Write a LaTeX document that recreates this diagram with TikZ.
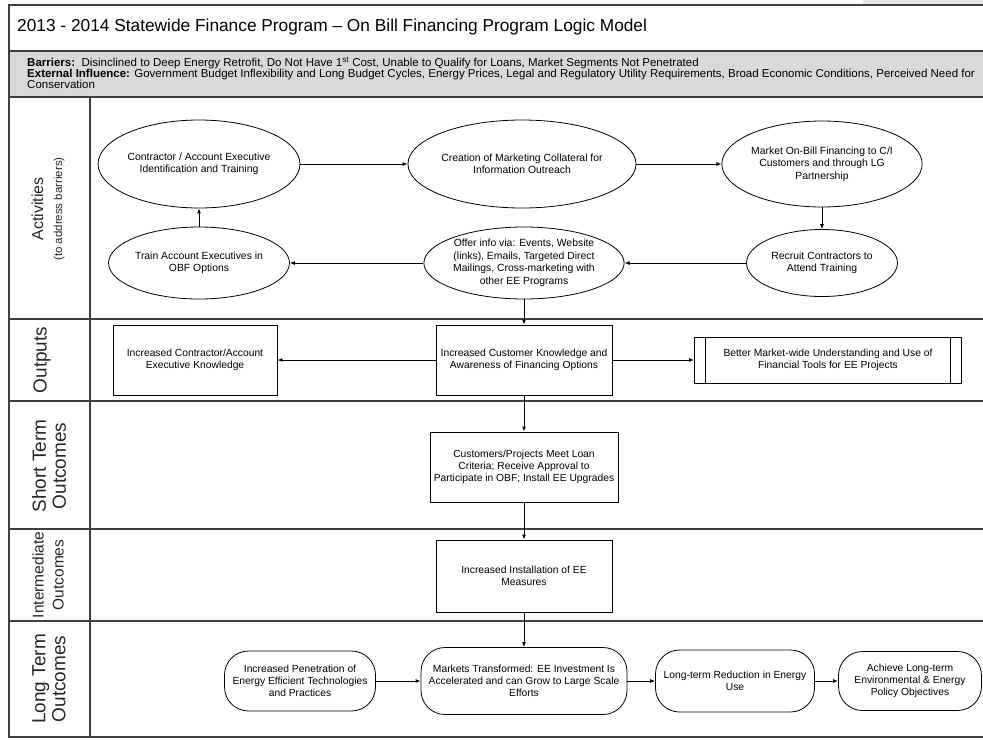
\documentclass[tikz,border=0pt]{standalone}
\usepackage{fontspec}
\setmainfont{Liberation Sans}
\usetikzlibrary{shapes,arrows,positioning,calc,arrows.meta}

\begin{document}
\begin{tikzpicture}[x=1pt, y=-1pt,
        activity/.style={
            ellipse, draw=black, line width=0.8pt, fill=white,
            font=\fontsize{10.4}{12.5}\selectfont, align=center,
            inner sep=0pt
          },
        outbox/.style={
            rectangle, draw=black, line width=0.9pt, fill=white,
            font=\fontsize{10.3}{12}\selectfont, align=center,
            inner sep=2pt
          },
        longterm/.style={
            rectangle, rounded corners=24pt, draw=black, line width=0.8pt, fill=white,
            font=\fontsize{10.3}{12}\selectfont, align=center,
            inner sep=2pt
          },
        flow/.style={-{Latex[length=5pt,width=4pt]}, line width=0.9pt},
        rowline/.style={draw=black!75, line width=1.3pt},
        rowlabel/.style={rotate=90, align=center, text=black!85, font=\fontsize{19}{20}\selectfont},
      ]
      \useasboundingbox (0,0) rectangle (983,740);
      \clip (0,0) rectangle (983,740);

      % Frame and header band
      \fill [black!10] (863,0) rectangle (990,4);
      \fill [black!15] (9,51) rectangle (1000,97);
      \draw [rowline] (1000,5) -- (9,5) -- (9,737) -- (1000,737);
      \foreach \y in {51,97,319,401,529,621}
        \draw [rowline] (9,\y) -- (1000,\y);
      \draw [rowline] (90,97) -- (90,737);

      \node [anchor=west, inner sep=0pt, font=\fontsize{17.3}{20}\selectfont] (title) at (17,27)
        {2013 - 2014 Statewide Finance Program – On Bill Financing Program Logic Model};
      \node [anchor=west, inner sep=0pt, align=left, font=\fontsize{11.5}{11}\selectfont] (barriers) at (27,73)
        {\textbf{Barriers:}\ \ Disinclined to Deep Energy Retrofit, Do Not Have 1\textsuperscript{st} Cost, Unable to Qualify for Loans, Market Segments Not Penetrated\\
         \textbf{External Influence:} Government Budget Inflexibility and Long Budget Cycles, Energy Prices, Legal and Regulatory Utility Requirements, Broad Economic Conditions, Perceived Need for\\
         Conservation};

      % Row labels
      \node [rowlabel, font=\fontsize{16}{19}\selectfont] (lblact) at (48,209) {Activities\\{\fontsize{11.5}{13}\selectfont(to address barriers)}};
      \node [rowlabel] (lblout) at (42,360) {Outputs};
      \node [rowlabel] (lblst) at (49,466) {Short Term\\Outcomes};
      \node [rowlabel, font=\fontsize{15.5}{20}\selectfont] (lblim) at (48,575) {Intermediate\\Outcomes};
      \node [rowlabel] (lbllt) at (49,679) {Long Term\\Outcomes};

      % Activities
      \node [activity, minimum width=197pt, minimum height=88pt] (act1) at (199,164) {Contractor / Account Executive\\Identification and Training};
      \node [activity, minimum width=197pt, minimum height=88pt] (act2) at (522,164) {Creation of Marketing Collateral for\\Information Outreach};
      \node [activity, minimum width=199pt, minimum height=86pt] (act3) at (822,164) {Market On-Bill Financing to C/I\\Customers and through LG\\Partnership};
      \node [activity, minimum width=199pt, minimum height=72pt] (act4) at (524,263) {Offer info via: Events, Website\\(links), Emails, Targeted Direct\\Mailings, Cross-marketing with\\other EE Programs};
      \node [activity, minimum width=151pt, minimum height=67pt] (act5) at (822,263) {Recruit Contractors to\\Attend Training};
      \node [activity, minimum width=159pt, minimum height=72pt] (act6) at (199,263) {Train Account Executives in\\OBF Options};

      % Outputs
      \node [outbox, minimum width=164pt, minimum height=70pt] (out1) at (195,360) {Increased Contractor/Account\\Executive Knowledge};
      \node [outbox, minimum width=176pt, minimum height=70pt] (out2) at (524,360) {Increased Customer Knowledge and\\Awareness of Financing Options};
      \node [outbox, minimum width=267pt, minimum height=46pt] (out3) at (828,360) {Better Market-wide Understanding and Use of\\Financial Tools for EE Projects};
      \draw [line width=0.9pt] ([xshift=11pt]out3.north west) -- ([xshift=11pt]out3.south west);
      \draw [line width=0.9pt] ([xshift=-12pt]out3.north east) -- ([xshift=-12pt]out3.south east);

      % Short term and intermediate outcomes
      \node [outbox, minimum width=188pt, minimum height=70pt] (st1) at (524,467) {Customers/Projects Meet Loan\\Criteria; Receive Approval to\\Participate in OBF; Install EE Upgrades};
      \node [outbox, minimum width=176pt, minimum height=72pt] (im1) at (524,576) {Increased Installation of EE\\Measures};

      % Long term outcomes
      \node [longterm, minimum width=151pt, minimum height=60pt] (lt1) at (300,681) {Increased Penetration of\\Energy Efficient Technologies\\and Practices};
      \node [longterm, minimum width=206pt, minimum height=67pt] (lt2) at (524,681) {Markets Transformed: EE Investment Is\\Accelerated and can Grow to Large Scale\\Efforts};
      \node [longterm, minimum width=159pt, minimum height=62pt] (lt3) at (735,681) {Long-term Reduction in Energy\\Use};
      \node [longterm, minimum width=143pt, minimum height=59pt] (lt4) at (910,681) {Achieve Long-term\\Environmental \& Energy\\Policy Objectives};

      % Flows
      \draw [flow] (act1) -- (act2);
      \draw [flow] (act2) -- (act3);
      \draw [flow] (act3) -- (act5);
      \draw [flow] (act5) -- (act4);
      \draw [flow] (act4) -- (act6);
      \draw [flow] (act6) -- (act1);
      \draw [flow] (act4) -- (out2);
      \draw [flow] (out2) -- (out1);
      \draw [flow] (out2) -- (out3);
      \draw [flow] (out2) -- (st1);
      \draw [flow] (st1) -- (im1);
      \draw [flow] (im1) -- (lt2);
      \draw [flow] (lt1) -- (lt2);
      \draw [flow] (lt2) -- (lt3);
      \draw [flow] (lt3) -- (lt4);
    \end{tikzpicture}
\end{document}
